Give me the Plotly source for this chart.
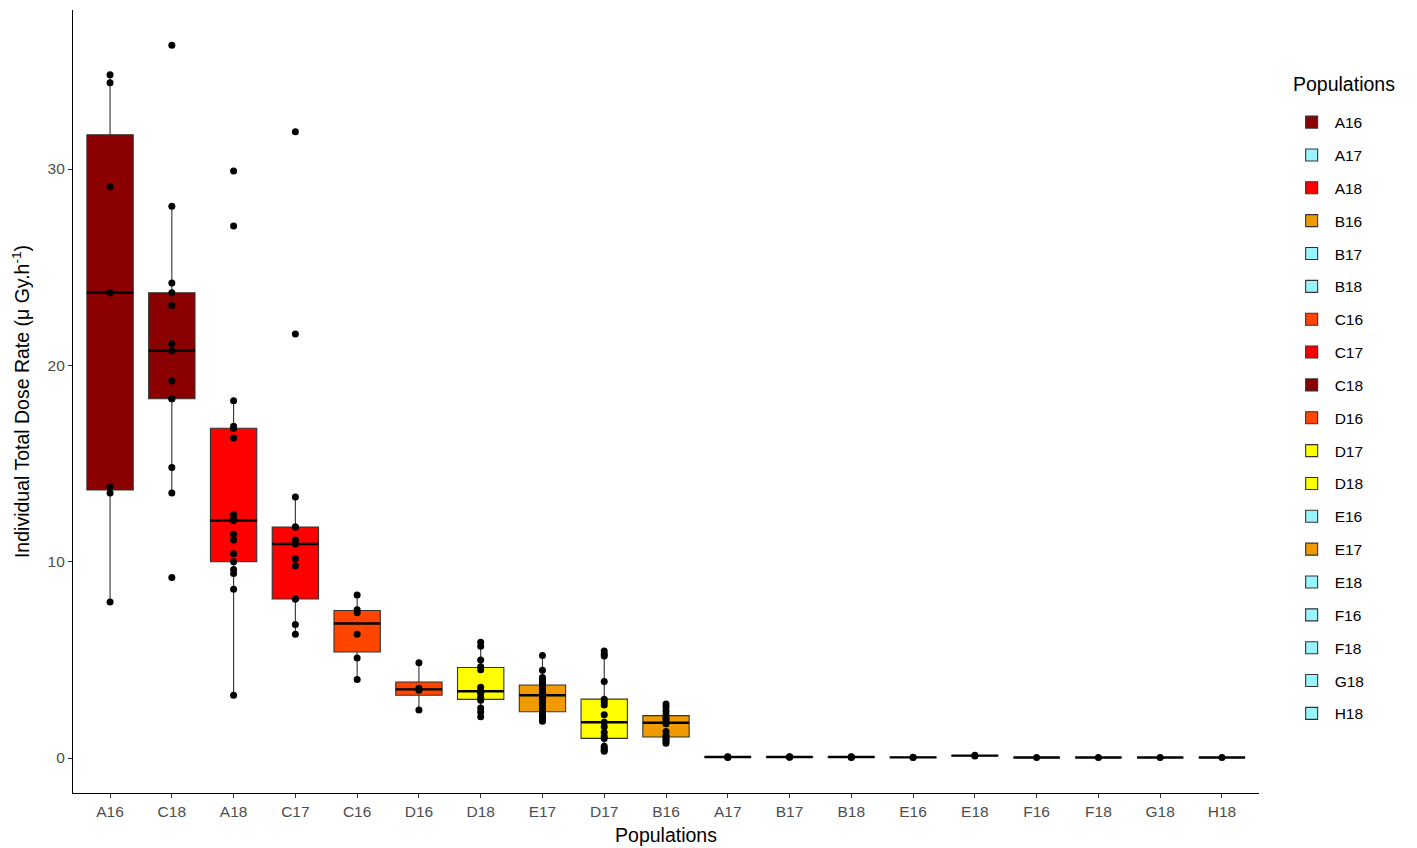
import numpy as np
import plotly.graph_objects as go

# ---- data ----
x_order = ["A16", "C18", "A18", "C17", "C16", "D16", "D18", "E17", "D17", "B16",
           "A17", "B17", "B18", "E16", "E18", "F16", "F18", "G18", "H18"]
legend_order = ["A16", "A17", "A18", "B16", "B17", "B18", "C16", "C17", "C18", "D16",
                "D17", "D18", "E16", "E17", "E18", "F16", "F18", "G18", "H18"]

a16 = [34.8, 34.4, 29.1, 23.7, 13.8, 13.5, 7.95]
c18 = [36.3, 28.1, 24.2, 23.7, 23.05, 21.1, 20.75, 19.2, 18.3, 18.3, 14.8, 13.5, 9.2]
a18 = [29.9, 27.1, 18.2, 16.9, 16.8, 16.3, 12.4, 12.2, 12.1, 11.4, 11.1, 10.4, 10.0,
       9.6, 9.4, 8.6, 3.2]
c17 = [31.9, 21.6, 13.3, 11.77, 11.77, 11.1, 10.9, 10.15, 9.8, 8.1, 8.1, 6.8, 6.3]
c16 = [8.3, 7.55, 7.4, 6.3, 5.1, 4.0]
d16 = [4.85, 3.55, 3.45, 2.45]
d18 = [5.9, 5.7, 5.0, 4.65, 4.5, 3.6, 3.45, 3.35, 3.3, 3.1, 2.95, 2.55, 2.35, 2.1]
e17 = [5.22, 4.47, 4.1, 4.0, 3.9, 3.8, 3.72, 3.6, 3.5, 3.4, 3.3, 3.25, 3.2, 3.1,
       2.95, 2.8, 2.65, 2.5, 2.36, 2.25, 2.15, 2.05, 1.98, 1.92, 1.88]
d17 = [5.45, 5.3, 5.2, 3.9, 3.0, 2.85, 2.7, 2.2, 1.82, 1.6, 1.3, 1.1, 1.0, 0.6,
       0.5, 0.4, 0.35]
b16 = [2.75, 2.6, 2.4, 2.2, 2.05, 1.95, 1.85, 1.75, 1.35, 1.15, 1.05, 0.95, 0.85, 0.75]
a17 = [0.03, 0.05, 0.06]
b17 = [0.04, 0.05, 0.06]
b18 = [0.03, 0.05, 0.07]
e16 = [0.03, 0.04]
e18 = [0.11, 0.14]
f16 = [0.03]
f18 = [0.03]
g18 = [0.03]
h18 = [0.03]

values = {"A16": a16, "C18": c18, "A18": a18, "C17": c17, "C16": c16, "D16": d16,
          "D18": d18, "E17": e17, "D17": d17, "B16": b16, "A17": a17, "B17": b17,
          "B18": b18, "E16": e16, "E18": e18, "F16": f16, "F18": f18, "G18": g18,
          "H18": h18}

fills = {"A16": "#8B0000", "C18": "#8B0000", "A18": "#FF0000", "C17": "#FF0000",
         "C16": "#FF4500", "D16": "#FF4500", "D17": "#FFFF00", "D18": "#FFFF00",
         "B16": "#EE9A00", "E17": "#EE9A00"}
cyan = "#98F5FF"

BOX_W = 0.75


def stats(v):
    a = np.asarray(v, dtype=float)
    q1, med, q3 = np.percentile(a, [25, 50, 75])
    iqr = q3 - q1
    lo = a[a >= q1 - 1.5 * iqr].min()
    hi = a[a <= q3 + 1.5 * iqr].max()
    return q1, med, q3, lo, hi


fig = go.Figure()

for name in legend_order:
    q1, med, q3, lo, hi = stats(values[name])
    fig.add_trace(go.Box(
        x=[name], q1=[q1], median=[med], q3=[q3], lowerfence=[lo], upperfence=[hi],
        name=name, legendgroup=name, boxpoints=False, width=BOX_W,
        fillcolor=fills.get(name, cyan),
        line=dict(color="#333333", width=1.1),
        whiskerwidth=0,
    ))

# points
px, py = [], []
for name in x_order:
    for v in values[name]:
        px.append(name)
        py.append(v)
fig.add_trace(go.Scatter(x=px, y=py, mode="markers", showlegend=False,
                         marker=dict(color="black", size=7), hoverinfo="y"))

# thicker median lines (ggplot style) on a matching numeric overlay axis
mx, my = [], []
for i, name in enumerate(x_order):
    med = stats(values[name])[1]
    mx += [i - BOX_W / 2, i + BOX_W / 2, None]
    my += [med, med, None]
fig.add_trace(go.Scatter(x=mx, y=my, mode="lines", xaxis="x2", yaxis="y",
                         showlegend=False, line=dict(color="black", width=2.4),
                         hoverinfo="skip"))

font_family = "Liberation Sans, Arial, sans-serif"
xr = [-0.6, len(x_order) - 1 + 0.6]

fig.update_layout(
    width=1409, height=840,
    paper_bgcolor="white", plot_bgcolor="white",
    margin=dict(l=65, r=158, t=2, b=55),
    boxmode="overlay",
    font=dict(family=font_family, color="black"),
    xaxis=dict(
        type="category", categoryorder="array", categoryarray=x_order,
        range=xr,
        showline=True, linecolor="black", linewidth=1.1,
        ticks="outside", ticklen=4, tickcolor="#333333", tickwidth=1.1,
        tickfont=dict(size=15.5, color="#4D4D4D"),
        showgrid=False, zeroline=False,
        title=dict(text="Populations", font=dict(size=19.5, color="black"), standoff=9),
    ),
    xaxis2=dict(overlaying="x", range=xr, visible=False),
    yaxis=dict(
        range=[-1.78, 38.1],
        tickvals=[0, 10, 20, 30],
        showline=True, linecolor="black", linewidth=1.1,
        ticks="outside", ticklen=4, tickcolor="#333333", tickwidth=1.1,
        tickfont=dict(size=15.5, color="#4D4D4D"),
        showgrid=False, zeroline=False,
        title=dict(text="Individual Total Dose Rate (\u03bc Gy.h<sup>-1</sup>)",
                   font=dict(size=19.5, color="black"), standoff=12),
    ),
    legend=dict(
        font=dict(size=15.5, color="black"),
        x=1.025, xanchor="left", y=0.878, yanchor="top",
        tracegroupgap=9.7, traceorder="grouped", itemwidth=36,
        bgcolor="rgba(0,0,0,0)",
    ),
    annotations=[dict(
        text="Populations", xref="paper", yref="paper", x=1.027, y=0.9055,
        xanchor="left", yanchor="middle", showarrow=False,
        font=dict(size=19.5, color="black"),
    )],
)

fig.write_html("out.html")
